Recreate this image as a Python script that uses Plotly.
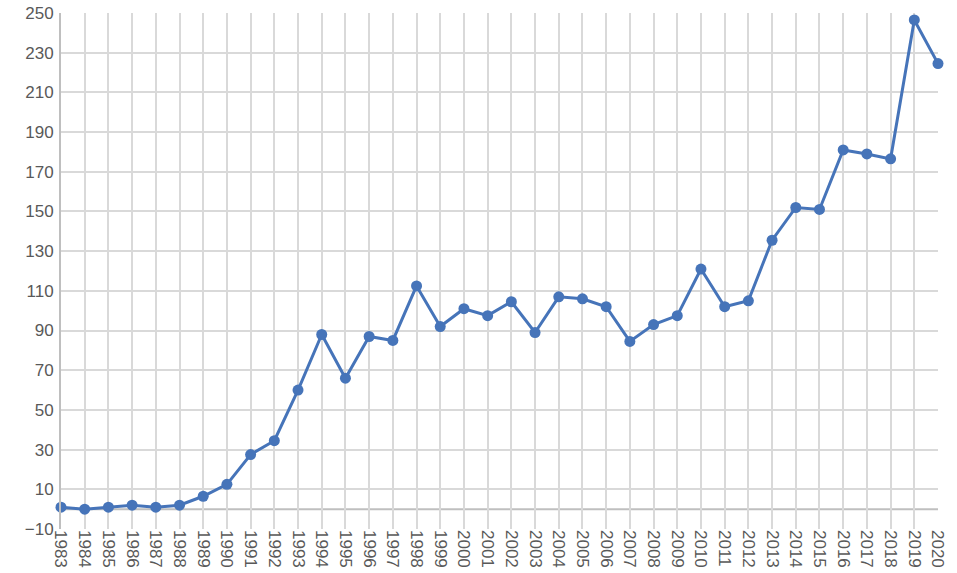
import plotly.graph_objects as go

years = list(range(1983, 2021))
values = [1, 0, 1, 2, 1, 2, 6.5, 12.5, 27.5, 34.5, 60, 88, 66, 87, 85, 112.5,
          92, 101, 97.5, 104.5, 89, 107, 106, 102, 84.5, 93, 97.5, 121, 102,
          105, 135.5, 152, 151, 181, 179, 176.5, 246.5, 224.5]
y_ticks = list(range(-10, 251, 20))

fig = go.Figure()
fig.add_trace(go.Scatter(
    x=years, y=values, mode="lines+markers",
    line=dict(color="#4674B9", width=3),
    marker=dict(color="#4674B9", size=11),
    cliponaxis=False, showlegend=False,
))

# horizontal category axis line crossing at 0
fig.add_shape(type="line", xref="paper", yref="y", x0=0, x1=1, y0=0, y1=0,
              line=dict(color="#BFBFBF", width=2), layer="below")

fig.update_layout(
    template="none",
    width=957, height=573,
    margin=dict(l=61, r=19, t=13, b=44, autoexpand=False),
    paper_bgcolor="white", plot_bgcolor="white",
    font=dict(family="Liberation Sans", size=17, color="#595959"),
)
fig.update_xaxes(
    range=[1983, 2020], tickmode="array", tickvals=years,
    ticktext=[str(y) for y in years], tickangle=90, automargin=False,
    showgrid=True, gridcolor="#D9D9D9", gridwidth=2,
    showline=False, zeroline=False, ticks="", ticklen=0,
)
fig.update_yaxes(
    range=[-10, 250], tickmode="array", tickvals=y_ticks, automargin=False,
    showgrid=True, gridcolor="#D9D9D9", gridwidth=2,
    showline=True, linecolor="#BFBFBF", linewidth=2,
    zeroline=False, ticks="", ticklabelstandoff=2,
)

fig.write_html("out.html", config={"displayModeBar": False},
               post_script="document.body.style.margin='0';")
